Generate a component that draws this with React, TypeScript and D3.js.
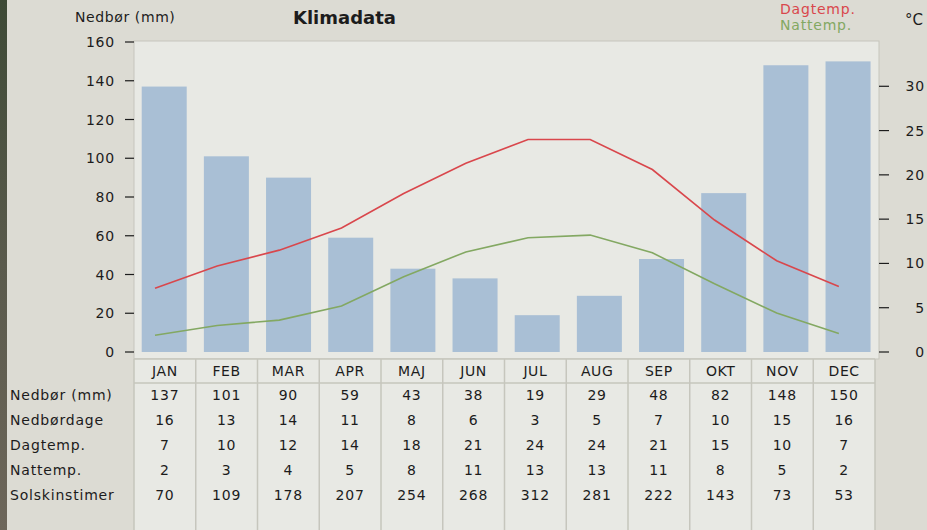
import React from "react";
import { scaleBand, scaleLinear, line } from "d3";

const months = ["JAN", "FEB", "MAR", "APR", "MAJ", "JUN", "JUL", "AUG", "SEP", "OKT", "NOV", "DEC"];
const precip = [137, 101, 90, 59, 43, 38, 19, 29, 48, 82, 148, 150];
const rainDays = [16, 13, 14, 11, 8, 6, 3, 5, 7, 10, 15, 16];
const dayTemp = [7, 10, 12, 14, 18, 21, 24, 24, 21, 15, 10, 7];
const nightTemp = [2, 3, 4, 5, 8, 11, 13, 13, 11, 8, 5, 2];
const sunHours = [70, 109, 178, 207, 254, 268, 312, 281, 222, 143, 73, 53];
// values as drawn by the curves (slightly finer than the rounded table)
const dayTempCurve = [7.2, 9.7, 11.5, 14.0, 17.9, 21.3, 24.0, 24.0, 20.6, 14.9, 10.3, 7.4];
const nightTempCurve = [1.9, 3.0, 3.6, 5.2, 8.5, 11.3, 12.9, 13.2, 11.2, 7.7, 4.4, 2.1];
const precipTicks = [0, 20, 40, 60, 80, 100, 120, 140, 160];
const tempTicks = [0, 5, 10, 15, 20, 25, 30];
const rowLabels = ["Nedbør (mm)", "Nedbørdage", "Dagtemp.", "Nattemp.", "Solskinstimer"];
const rows = [precip, rainDays, dayTemp, nightTemp, sunHours];

const W = 927;
const H = 530;
const plot = { left: 134, right: 879, top: 41, bottom: 352 };
const tableRight = 875;
const font = "'DejaVu Sans', sans-serif";
const ink = "#1c1c1c";

export default function App() {
  const x = scaleBand<string>().domain(months).range([plot.left, 880]).padding(0);
  const xt = scaleBand<string>().domain(months).range([plot.left, tableRight]).padding(0);
  const yL = scaleLinear().domain([0, 160]).range([plot.bottom, 42]);
  const yR = scaleLinear().domain([0, 35]).range([plot.bottom, 42]);

  const barInset = x.bandwidth() * 0.124;
  const barW = x.bandwidth() * 0.724;
  const lineX = (i: number) => (x(months[i]) as number) + x.bandwidth() * 0.338;

  const tempLine = line<number>()
    .x((_, i) => lineX(i))
    .y((d) => yR(d));

  const headerTop = 359;
  const headerBottom = 383;
  const rowY = (r: number) => 395 + r * 25.1;

  return (
    <svg
      width={W}
      height={H}
      style={{ position: "absolute", left: 0, top: 0, fontFamily: font }}
    >
      <defs>
        <linearGradient id="photo" x1="0" y1="0" x2="0" y2="1">
          <stop offset="0%" stopColor="#3e4a36" />
          <stop offset="50%" stopColor="#5a5a4c" />
          <stop offset="100%" stopColor="#6d665a" />
        </linearGradient>
      </defs>
      <rect x={0} y={0} width={W} height={H} fill="#dcdbd3" />
      <rect x={0} y={0} width={7} height={H} fill="url(#photo)" />

      {/* plot frame */}
      <rect
        x={plot.left}
        y={plot.top}
        width={plot.right - plot.left}
        height={headerTop - plot.top}
        fill="#e8e9e4"
        stroke="#c6c6bd"
      />
      {/* table background */}
      <rect x={plot.left} y={headerTop} width={tableRight - plot.left} height={H - headerTop} fill="#e8e9e4" />

      {/* bars */}
      {precip.map((v, i) => (
        <rect
          key={months[i]}
          x={(x(months[i]) as number) + barInset}
          y={yL(v)}
          width={barW}
          height={plot.bottom - yL(v)}
          fill="#a9bfd5"
        />
      ))}

      <path d={tempLine(nightTempCurve) || ""} fill="none" stroke="#83a862" strokeWidth={1.6} />
      <path d={tempLine(dayTempCurve) || ""} fill="none" stroke="#d9474c" strokeWidth={1.6} />

      {/* left axis */}
      {precipTicks.map((t) => (
        <g key={t}>
          <line x1={125} x2={plot.left} y1={yL(t)} y2={yL(t)} stroke={ink} strokeWidth={1.2} />
          <text x={115} y={yL(t)} dy="0.36em" textAnchor="end" fontSize={14} letterSpacing={0.8} fill={ink}>
            {t}
          </text>
        </g>
      ))}

      {/* right axis */}
      {tempTicks.map((t) => (
        <g key={t}>
          <line x1={plot.right} x2={889} y1={yR(t)} y2={yR(t)} stroke={ink} strokeWidth={1.2} />
          <text x={925} y={yR(t)} dy="0.36em" textAnchor="end" fontSize={14} letterSpacing={0.8} fill={ink}>
            {t}
          </text>
        </g>
      ))}

      {/* titles and legend */}
      <text x={75} y={22} fontSize={14} letterSpacing={0.6} fill={ink}>
        Nedbør (mm)
      </text>
      <text x={293} y={24} fontSize={18} fontWeight="bold" fill={ink}>
        Klimadata
      </text>
      <text x={780} y={14} fontSize={14} letterSpacing={0.8} fill="#d9474c">
        Dagtemp.
      </text>
      <text x={780} y={30} fontSize={14} letterSpacing={0.8} fill="#83a862">
        Nattemp.
      </text>
      <text x={905} y={25} fontSize={15} fill={ink}>
        °C
      </text>

      {/* table grid */}
      <line x1={plot.left} x2={tableRight} y1={headerTop} y2={headerTop} stroke="#c6c6bd" strokeWidth={1.5} />
      <line x1={plot.left} x2={tableRight} y1={headerBottom} y2={headerBottom} stroke="#c6c6bd" strokeWidth={1.5} />
      {months.map((m) => (
        <line
          key={m}
          x1={xt(m) as number}
          x2={xt(m) as number}
          y1={headerTop}
          y2={H}
          stroke="#c6c6bd"
          strokeWidth={1.5}
        />
      ))}
      <line x1={tableRight} x2={tableRight} y1={headerTop} y2={H} stroke="#c6c6bd" strokeWidth={1.5} />

      {months.map((m) => (
        <text
          key={m}
          x={(xt(m) as number) + xt.bandwidth() / 2}
          y={371}
          dy="0.36em"
          textAnchor="middle"
          fontSize={14}
          letterSpacing={0.6}
          fill={ink}
        >
          {m}
        </text>
      ))}

      {rowLabels.map((label, r) => (
        <g key={label}>
          <text x={10} y={rowY(r)} dy="0.36em" fontSize={14} letterSpacing={0.8} fill={ink}>
            {label}
          </text>
          {rows[r].map((v, i) => (
            <text
              key={i}
              x={(xt(months[i]) as number) + xt.bandwidth() / 2}
              y={rowY(r)}
              dy="0.36em"
              textAnchor="middle"
              fontSize={14}
              letterSpacing={0.8}
              fill={ink}
            >
              {v}
            </text>
          ))}
        </g>
      ))}
    </svg>
  );
}
